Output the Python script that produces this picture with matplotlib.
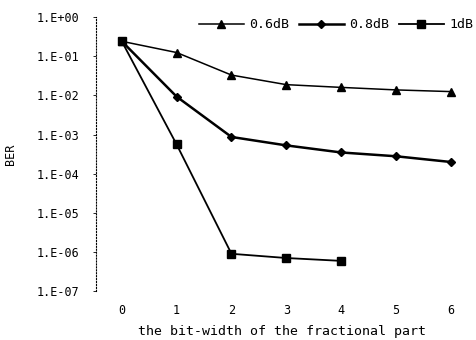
import matplotlib.pyplot as plt
from matplotlib.ticker import FixedLocator

# BER versus bit-width of the fractional part, one curve per SNR
bits = [0, 1, 2, 3, 4, 5, 6]
ber_06db = [0.24, 0.124, 0.033, 0.0188, 0.016, 0.0138, 0.0125]
ber_08db = [0.24, 0.0093, 8.7e-4, 5.3e-4, 3.5e-4, 2.8e-4, 2.0e-4]
bits_1db = [0, 1, 2, 3, 4]
ber_1db = [0.24, 5.6e-4, 9.1e-7, 7.1e-7, 6.0e-7]

ytick_vals = [1e0, 1e-1, 1e-2, 1e-3, 1e-4, 1e-5, 1e-6, 1e-7]
ytick_labels = ['1.E+00', '1.E-01', '1.E-02', '1.E-03',
                '1.E-04', '1.E-05', '1.E-06', '1.E-07']

plt.rcParams['font.family'] = 'DejaVu Sans Mono'

fig = plt.figure(figsize=(4.76, 3.40), dpi=100)
ax = fig.add_axes([0.2017, 0.143, 0.78, 0.807])

ax.plot(bits, ber_06db, color='black', lw=1.1, marker='^', ms=6, label='0.6dB')
ax.plot(bits, ber_08db, color='black', lw=1.8, marker='D', ms=4.5, label='0.8dB')
ax.plot(bits_1db, ber_1db, color='black', lw=1.3, marker='s', ms=5.5, label='1dB')

ax.set_yscale('log')
ax.set_ylim(1e-7, 1e0)
ax.set_xlim(-0.47, 6.3)
ax.yaxis.set_major_locator(FixedLocator(ytick_vals))
ax.set_yticks(ytick_vals)
ax.set_yticklabels(ytick_labels)
ax.yaxis.set_minor_locator(FixedLocator([]))
ax.set_xticks(bits)

for s in ['top', 'right', 'bottom']:
    ax.spines[s].set_visible(False)
ax.spines['left'].set_linestyle(':')
ax.spines['left'].set_linewidth(0.8)

ax.tick_params(axis='y', length=2, width=0.6, labelsize=8.5, pad=10)
ax.tick_params(axis='x', length=0, labelsize=8.5, pad=9)

ax.set_ylabel('BER', fontsize=8.5, labelpad=14)
ax.set_xlabel('the bit-width of the fractional part', fontsize=9.5, labelpad=6)

ax.legend(loc='center right', bbox_to_anchor=(473 / 476, 1 - 25 / 340),
          bbox_transform=fig.transFigure, borderaxespad=0, borderpad=0,
          ncol=3, frameon=False, fontsize=9.5, handlelength=3.4,
          columnspacing=0.75, handletextpad=0.4)

fig.savefig('out.png', dpi=100)
